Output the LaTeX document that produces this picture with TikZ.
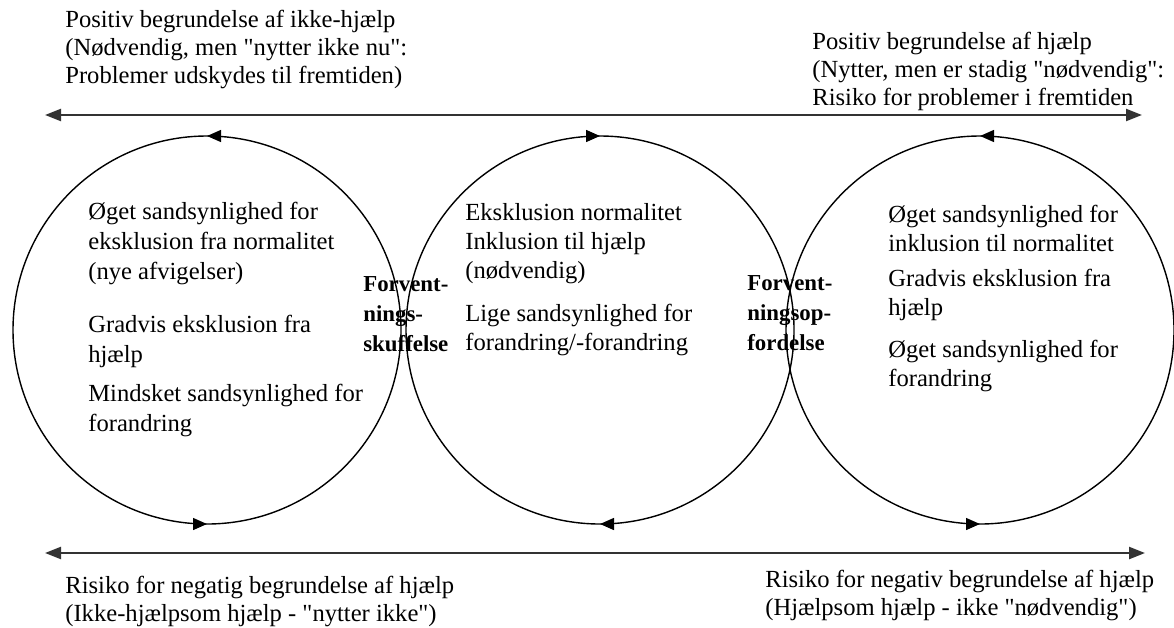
\documentclass[tikz,border=0pt]{standalone}
\usepackage{fontspec}
\setmainfont{Liberation Serif}[Ligatures=TeXOff]
\usepackage{tikz}
\usetikzlibrary{arrows.meta,decorations.markings}

\begin{document}
\begin{tikzpicture}[x=0.2mm, y=-0.2mm,
  txt/.style={anchor=north west, align=left, inner sep=0pt, font=\fontsize{14}{16}\selectfont},
  intxt/.style={anchor=north west, align=left, inner sep=0pt, font=\fontsize{14}{16.5}\selectfont},
  lbl/.style={anchor=north west, align=left, inner sep=0pt, font=\fontsize{13}{17}\selectfont\bfseries},
  axis/.style={line width=1.3pt, black!80, -{Triangle[length=3.2mm, width=2.4mm]}},
  loopccw/.style={line width=0.8pt, postaction={decorate}, decoration={markings,
    mark=at position 0.25 with {\arrow{Triangle[length=2.8mm, width=2.4mm]}},
    mark=at position 0.75 with {\arrow{Triangle[length=2.8mm, width=2.4mm]}}}},
  loopcw/.style={line width=0.8pt, postaction={decorate}, decoration={markings,
    mark=at position 0.25 with {\arrowreversed{Triangle[length=2.8mm, width=2.4mm]}},
    mark=at position 0.75 with {\arrowreversed{Triangle[length=2.8mm, width=2.4mm]}}}}]
  \useasboundingbox (0,0) rectangle (1174,627);

  % the two axes
  \coordinate (topmid) at (606,115);
  \coordinate (topL) at (45,115);
  \coordinate (topR) at (1142,115);
  \coordinate (botmid) at (606,553);
  \coordinate (botL) at (45,553);
  \coordinate (botR) at (1145,553);
  \draw[axis] (topmid) -- (topL);
  \draw[axis] (topmid) -- (topR);
  \draw[axis] (botmid) -- (botL);
  \draw[axis] (botmid) -- (botR);

  % the three circles
  \coordinate (cL) at (207,330);
  \coordinate (cM) at (600,330);
  \coordinate (cR) at (980,330);
  \draw[loopccw] (cL) circle (38.8mm);
  \draw[loopcw] (cM) circle (38.8mm);
  \draw[loopccw] (cR) circle (38.8mm);

  % texts above and below
  \node[txt] at (65,10) (posikke) {Positiv begrundelse af ikke-hjælp\\(Nødvendig, men "nytter ikke nu":\\Problemer udskydes til fremtiden)};
  \node[txt] at (812,32) (poshjaelp) {Positiv begrundelse af hjælp\\(Nytter, men er stadig "nødvendig":\\Risiko for problemer i fremtiden};
  \node[txt] at (65,576) (negikke) {Risiko for negatig begrundelse af hjælp\\(Ikke-hjælpsom hjælp - "nytter ikke")};
  \node[txt] at (765,570) (neghjaelp) {Risiko for negativ begrundelse af hjælp\\(Hjælpsom hjælp - ikke "nødvendig")};

  % texts in the circles
  \node[intxt, font=\fontsize{14}{17}\selectfont] at (88,202) (txtL) {Øget sandsynlighed for\\eksklusion fra normalitet\\(nye afvigelser)\\[13pt]Gradvis eksklusion fra\\hjælp\\[5.6pt]Mindsket sandsynlighed for\\forandring};
  \node[intxt] at (465,203) (txtM) {Eksklusion normalitet\\Inklusion til hjælp\\(nødvendig)\\[8pt]Lige sandsynlighed for\\forandring/-forandring};
  \node[intxt] at (888,205) (txtR) {Øget sandsynlighed for\\inklusion til normalitet\\[3.5pt]Gradvis eksklusion fra\\hjælp\\[7.5pt]Øget sandsynlighed for\\forandring};

  % where the circles meet
  \node[lbl] at (363,276) (skuffelse) {Forvent-\\nings-\\skuffelse};
  \node[lbl] at (747,275) (opfordelse) {Forvent-\\ningsop-\\fordelse};
\end{tikzpicture}
\end{document}
